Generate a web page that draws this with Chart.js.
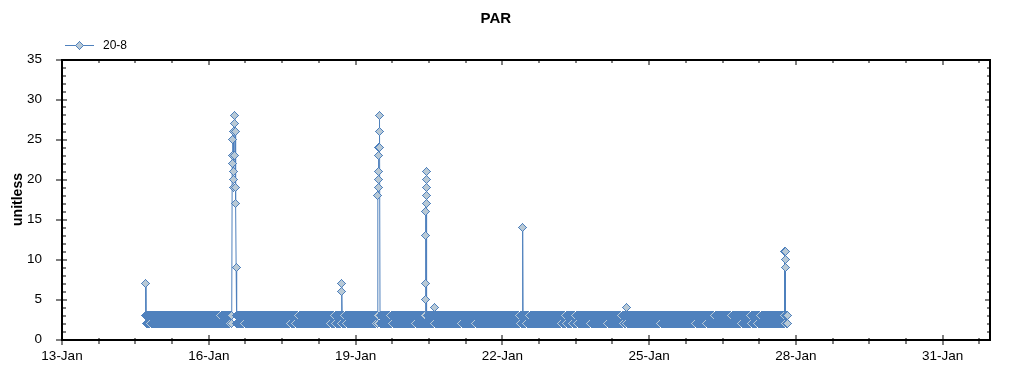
<!DOCTYPE html>
<html>
<head>
<meta charset="utf-8">
<script src="https://cdn.jsdelivr.net/npm/chart.js@4.4.1/dist/chart.umd.min.js"></script>
<style>
  html, body { margin: 0; padding: 0; background: #ffffff; overflow: hidden; }
  #wrap { width: 1024px; height: 375px; }
</style>
</head>
<body>
<div id="wrap"><canvas id="c" width="1024" height="375"></canvas></div>
<script>
// ---------------- data ----------------
const chartTitle = "PAR";
const yAxisTitle = "unitless";
const seriesName = "20-8";

// x axis: day of January (32 = 1-Feb)
const xMin = 13;
const xMax = 32;
const xTickValues = [13, 16, 19, 22, 25, 28, 31];
const xTickLabels = ["13-Jan", "16-Jan", "19-Jan", "22-Jan", "25-Jan", "28-Jan", "31-Jan"];
const yTickValues = [0, 5, 10, 15, 20, 25, 30, 35];

// background readings, one every 10 minutes, starting 14-Jan 17:10
const bandStartDay = 14;
const bandStartHour = 17 + 10 / 60;
const bandStepHours = 10 / 60;
const bandReadings = [
  "32332232 33232332 23323232 32233232 33223323 2",
  "32322332 32332232 33232332 23323232 32233232 33223323 23232332 32323223 22332323 33232232 23322323 32232333 23233223 32223332 33322323 23232233 32332322 22323332",
  "32332232 33232332 23323232 32233232 33223323 23232332 32323223 22332323 33232232 23322323 32232333 23233223 32223332 33322323 23232233 32332322 22323332 32322332",
  "33232332 23323232 32233232 33223323 23232332 32323223 22332323 33232232 23322323 32232333 23233223 32223332 33322323 23232233 32332322 22323332 32322332 32332232",
  "23323232 32233232 33223323 23232332 32323223 22332323 33232232 23322323 32232333 23233223 32223332 33322323 23232233 32332322 22323332 32322332 32332232 33232332",
  "32233232 33223323 23232332 32323223 22332323 33232232 23322323 32232333 23233223 32223332 33322323 23232233 32332322 22323332 32322332 32332232 33232332 23323232",
  "33223323 23232332 32323223 22332323 33232232 23322323 32232333 23233223 32223332 33322323 23232233 32332322 22323332 32322332 32332232 33232332 23323232 32233232",
  "23232332 32323223 22332323 33232232 23322323 32232333 23233223 32223332 33322323 23232233 32332322 22323332 32322332 32332232 33232332 23323232 32233232 33223323",
  "32323223 22332323 33232232 23322323 32232333 23233223 32223332 33322323 23232233 32332322 22323332 32322332 32332232 33232332 23323232 32233232 33223323 23232332",
  "22332323 33232232 23322323 32232333 23233223 32223332 33322323 23232233 32332322 22323332 32322332 32332232 33232332 23323232 32233232 33223323 23232332 32323223",
  "33232232 23322323 32232333 23233223 32223332 33322323 23232233 32332322 22323332 32322332 32332232 33232332 23323232 32233232 33223323 23232332 32323223 22332323",
  "23322323 32232333 23233223 32223332 33322323 23232233 32332322 22323332 32322332 32332232 33232332 23323232 32233232 33223323 23232332 32323223 22332323 33232232",
  "32232333 23233223 32223332 33322323 23232233 32332322 22323332 32322332 32332232 33232332 23323232 32233232 33223323 23232332 32323223 22332323 33232232 23322323",
  "23233223 32223332 33322323 23232233 32332322 22323332 32322332 32332232 33232332 23323232 32233232 33223323 23232332 32323223 22332323 3"
];

// peaks: [day of January, "HH:MM", value]
const peak14Jan = [[14, "17:00", 7]];
const peak16Jan = [[16, "11:30", 23], [16, "11:40", 22], [16, "11:50", 25], [16, "11:55", 26],
                   [16, "12:00", 19], [16, "12:10", 21], [16, "12:15", 20], [16, "12:30", 23],
                   [16, "12:40", 28], [16, "12:50", 27], [16, "13:00", 26], [16, "13:05", 19],
                   [16, "13:15", 17], [16, "13:25", 9]];
const peak18Jan = [[18, "17:05", 6], [18, "17:20", 7]];
const peak19Jan = [[19, "11:00", 18], [19, "11:05", 19], [19, "11:10", 20], [19, "11:15", 21],
                   [19, "11:20", 24], [19, "11:25", 23], [19, "11:30", 24], [19, "11:40", 26],
                   [19, "11:50", 28]];
const peak20Jan = [[20, "10:15", 5], [20, "10:20", 7], [20, "10:25", 13], [20, "10:30", 16],
                   [20, "10:35", 17], [20, "10:40", 18], [20, "10:45", 19], [20, "10:50", 20],
                   [20, "10:55", 21]];
const bump20Jan = [[20, "14:50", 4]];
const peak22Jan = [[22, "10:05", 14]];
const bump24Jan = [[24, "12:40", 4]];
const peak27Jan = [[27, "18:30", 11], [27, "18:40", 11], [27, "18:45", 10], [27, "18:50", 9]];
const peakGroups = [peak14Jan, peak16Jan, peak18Jan, peak19Jan, peak20Jan, bump20Jan,
                    peak22Jan, bump24Jan, peak27Jan];

// ---------------- styles ----------------
const lineColor = "#4f81bd";
const markerFill = "#b8c9d6";
const fontFamily = '"Liberation Sans", Arial, sans-serif';

// pixel diamond marker (crisp, like the original renderer)
function makeDiamond(r, fill, stroke) {
  const n = 2 * r + 1;
  const cv = document.createElement("canvas");
  cv.width = n; cv.height = n;
  const g = cv.getContext("2d");
  for (let row = 0; row < n; row++) {
    const hw = r - Math.abs(row - r);
    g.fillStyle = fill;
    g.fillRect(r - hw, row, 2 * hw + 1, 1);
    g.fillStyle = stroke;
    g.fillRect(r - hw, row, 1, 1);
    g.fillRect(r + hw, row, 1, 1);
  }
  return cv;
}
const diamondMarker = makeDiamond(4, markerFill, lineColor);

// ---------------- build points ----------------
function toDay(day, hhmm) {
  const [h, m] = hhmm.split(":").map(Number);
  return day + (h + m / 60) / 24;
}
function buildPoints() {
  const digits = bandReadings.join("").replace(/\s/g, "");
  const base = [];
  for (let i = 0; i < digits.length; i++) {
    base.push({ x: bandStartDay + (bandStartHour + i * bandStepHours) / 24, y: Number(digits[i]) });
  }
  const ranges = [];
  const extra = [];
  peakGroups.forEach(g => {
    const xs = g.map(p => toDay(p[0], p[1]));
    ranges.push([Math.min(...xs) - 1e-6, Math.max(...xs) + 1e-6]);
    g.forEach((p, i) => extra.push({ x: xs[i], y: p[2] }));
  });
  const kept = base.filter(p => !ranges.some(r => p.x >= r[0] && p.x <= r[1]));
  return kept.concat(extra).sort((a, b) => a.x - b.x);
}

// ---------------- plugins ----------------
const crispMarkers = {
  id: "crispMarkers",
  beforeDatasetsDraw(chart) { chart.ctx.imageSmoothingEnabled = false; }
};

const axesFrame = {
  id: "axesFrame",
  afterDatasetsDraw(chart) {
    const { ctx, chartArea: a, scales } = chart;
    const xs = scales.x, ys = scales.y;
    const L = Math.round(a.left), R = Math.floor(a.right) - 1, T = Math.round(a.top), B = Math.round(a.bottom);
    ctx.save();
    ctx.fillStyle = "#000";
    ctx.fillRect(L - 1, T - 1, R - L + 2, 2);
    ctx.fillRect(L - 1, B - 1, R - L + 2, 2);
    ctx.fillRect(L - 1, T - 1, 2, B - T + 2);
    ctx.fillRect(R - 1, T - 1, 2, B - T + 2);
    for (let v = 0; v <= 35; v += 1) {
      const py = Math.round(ys.getPixelForValue(v)) - 0.5;
      if (v % 5 === 0) {
        ctx.fillRect(L - 6, py, 11, 1);
        ctx.fillRect(R - 5, py, 5, 1);
      } else {
        ctx.fillRect(L, py, 4, 1);
        ctx.fillRect(R - 3, py, 3, 1);
      }
    }
    for (let k = 0; k * 0.75 <= xMax - xMin + 1e-9; k++) {
      const v = xMin + k * 0.75;
      const px = Math.round(xs.getPixelForValue(v)) - 0.5;
      if (k % 4 === 0) {
        ctx.fillRect(px, B - 5, 1, 10);
        ctx.fillRect(px, T, 1, 5);
      } else {
        ctx.fillRect(px, B - 2, 1, 6);
        ctx.fillRect(px, T, 1, 3);
      }
    }
    ctx.restore();
  }
};

const seriesKey = {
  id: "seriesKey",
  afterDraw(chart) {
    const ds = chart.data.datasets[0];
    const ctx = chart.ctx;
    ctx.save();
    ctx.strokeStyle = ds.borderColor;
    ctx.lineWidth = 1;
    ctx.beginPath();
    ctx.moveTo(65, 45.5);
    ctx.lineTo(94, 45.5);
    ctx.stroke();
    ctx.imageSmoothingEnabled = false;
    ctx.drawImage(ds.pointStyle, 75, 41);
    ctx.fillStyle = "#000";
    ctx.font = "12px " + fontFamily;
    ctx.textBaseline = "middle";
    ctx.textAlign = "left";
    ctx.fillText(ds.label, 103, 46);
    ctx.restore();
  }
};

// ---------------- chart ----------------
Chart.defaults.font.family = fontFamily;
Chart.defaults.color = "#000";

new Chart(document.getElementById("c").getContext("2d"), {
  type: "line",
  data: {
    datasets: [{
      label: seriesName,
      data: buildPoints(),
      borderColor: lineColor,
      borderWidth: 1,
      tension: 0,
      fill: false,
      pointStyle: diamondMarker,
      pointRadius: 4,
      pointHoverRadius: 4,
      pointBorderWidth: 1,
      pointBackgroundColor: markerFill,
      pointBorderColor: lineColor
    }]
  },
  options: {
    responsive: false,
    animation: false,
    devicePixelRatio: 1,
    events: [],
    layout: { padding: { left: 0, right: 32.4, top: 0, bottom: 0 } },
    plugins: {
      legend: { display: false },
      tooltip: { enabled: false },
      title: {
        display: true,
        text: chartTitle,
        color: "#000",
        font: { family: fontFamily, size: 15, weight: "bold" },
        padding: { top: 10, bottom: 31.5 }
      }
    },
    scales: {
      x: {
        type: "linear",
        min: xMin,
        max: xMax,
        grid: { display: false },
        border: { display: false },
        ticks: {
          color: "#000",
          font: { family: fontFamily, size: 13.5 },
          padding: 1,
          maxRotation: 0,
          autoSkip: false,
          callback: (v) => {
            const i = xTickValues.indexOf(v);
            return i >= 0 ? xTickLabels[i] : "";
          }
        },
        afterBuildTicks: (s) => { s.ticks = xTickValues.map(v => ({ value: v })); },
        afterFit: (s) => { s.height = 35.5; }
      },
      y: {
        min: 0,
        max: 35,
        grid: { display: false },
        border: { display: false },
        ticks: {
          color: "#000",
          font: { family: fontFamily, size: 13.5 },
          padding: 12,
          labelOffset: 0
        },
        afterBuildTicks: (s) => { s.ticks = yTickValues.map(v => ({ value: v })); },
        title: {
          display: true,
          text: yAxisTitle,
          color: "#000",
          font: { family: fontFamily, size: 14, weight: "bold" },
          padding: { top: 10, bottom: 0 }
        },
        afterFit: (s) => { s.width = 62; }
      }
    }
  },
  plugins: [crispMarkers, axesFrame, seriesKey]
});
</script>
</body>
</html>
